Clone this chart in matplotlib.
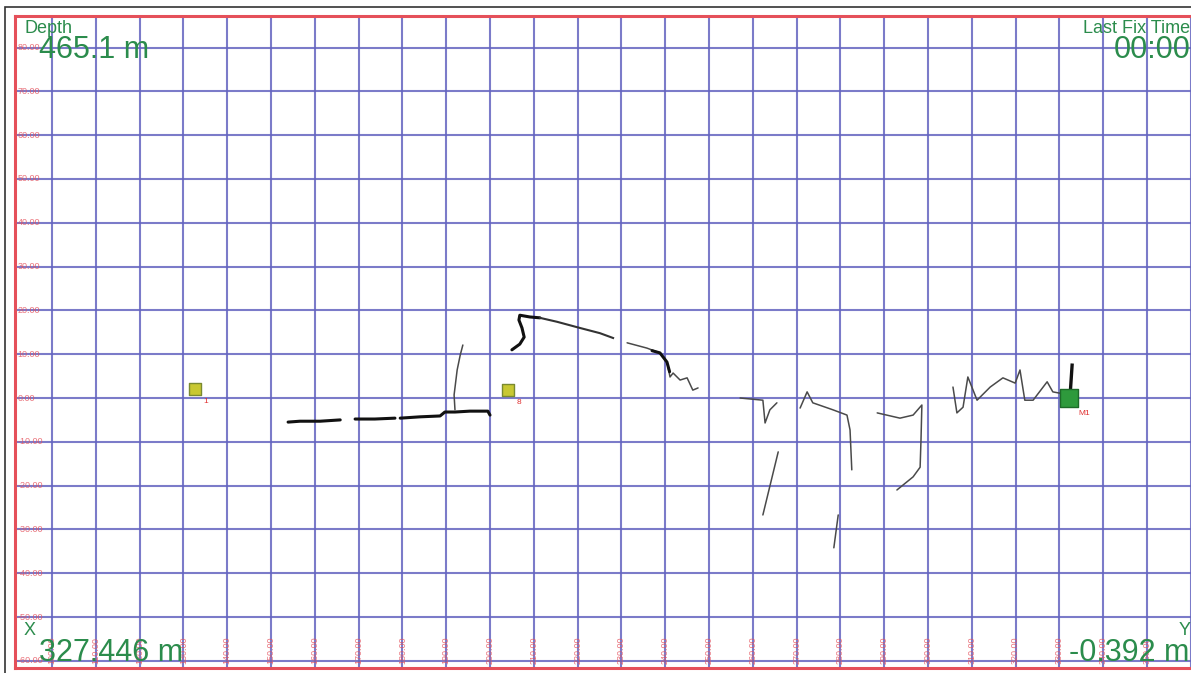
import matplotlib
matplotlib.use("Agg")
import matplotlib.pyplot as plt
import matplotlib.transforms as mtransforms
from matplotlib.patches import Rectangle

plt.rcParams['font.family'] = ['Liberation Sans', 'DejaVu Sans']

#%% Data
x_ticks = list(range(100, 361, 10))
x_labelled = list(range(100, 351, 10))
y_ticks = list(range(-60, 81, 10))

# track pieces (x, y) in metres
track_a1_x = [153.9, 156.6, 161.2, 165.8]
track_a1_y = [-5.5, -5.3, -5.3, -5.0]
track_a2_x = [169.2, 173.7, 178.3]
track_a2_y = [-4.8, -4.8, -4.6]
track_a3_x = [179.5, 184.0, 188.6, 189.7, 192.0, 195.4, 199.5, 200.0]
track_a3_y = [-4.6, -4.3, -4.1, -3.2, -3.2, -3.0, -3.0, -3.9]
track_t1_x = [192.0, 191.8, 192.5, 193.2, 193.8]
track_t1_y = [-2.7, 0.7, 6.4, 9.8, 12.1]

track_b1_x = [205.0, 206.8, 207.8, 207.3, 206.6, 206.8, 209.1, 211.4]
track_b1_y = [11.0, 12.3, 13.9, 16.0, 17.8, 18.9, 18.5, 18.3]
track_b2_x = [211.4, 215.3, 220.5, 225.1, 228.1]
track_b2_y = [18.3, 17.4, 16.0, 14.8, 13.7]
track_b3_x = [231.3, 235.8, 238.8, 240.4, 241.1, 241.8, 243.4, 245.0, 246.3, 247.5]
track_b3_y = [12.6, 11.4, 10.3, 8.2, 4.8, 5.7, 4.1, 4.6, 1.8, 2.3]
track_b3_thick_x = [237.0, 238.8, 240.4, 241.0]
track_b3_thick_y = [10.8, 10.3, 8.2, 6.0]

track_c1_x = [257.1, 262.3, 262.8, 263.9, 265.5]
track_c1_y = [0.0, -0.5, -5.7, -2.7, -1.1]
track_c2_x = [265.8, 262.3]
track_c2_y = [-12.3, -26.7]
track_c3_x = [270.8, 272.4, 273.7, 278.3, 281.5, 282.2, 282.6]
track_c3_y = [-2.3, 1.4, -1.1, -2.7, -3.9, -7.3, -16.4]
track_c4_x = [279.5, 278.5]
track_c4_y = [-26.7, -34.2]
track_c5_x = [288.4, 293.6, 296.6, 298.6, 298.4, 298.2, 296.6, 292.9]
track_c5_y = [-3.4, -4.6, -3.9, -1.6, -9.6, -15.8, -18.0, -21.0]
track_c6_x = [305.7, 306.6, 308.0, 309.1, 311.2, 314.2, 317.1, 319.9, 321.0,
              322.1, 324.0, 327.2, 328.5, 330.1]
track_c6_y = [2.5, -3.4, -2.1, 4.8, -0.5, 2.5, 4.6, 3.4, 6.4, -0.5, -0.5,
              3.7, 1.4, 1.1]

heading_x = [332.9, 332.4]
heading_y = [7.5, 0.0]

waypoint_x = [132.6, 204.1]
waypoint_y = [2.1, 1.8]
waypoint_labels = ["1", "8"]
vessel_x, vessel_y, vessel_label = 332.2, 0.0, "M1"

depth_text = "465.1 m"
x_text = "327.446 m"
y_text = "-0.392 m"
fix_text = "00:00"

#%% Figure
W, H = 1191, 673
fig = plt.figure(figsize=(W / 100, H / 100), dpi=100)
fig.patch.set_facecolor("white")

# outer dark border (left / top)
fig.add_artist(Rectangle((5 / W, -0.05), 1.2, 1 - 7 / H + 0.05,
                         transform=fig.transFigure, fill=False,
                         edgecolor="#333333", linewidth=1.2))

ax = fig.add_axes([15 / W, 1 - 668 / H, (1200 - 15) / W, (668 - 16) / H])
ax.set_xlim(91.55, 362.1)
ax.set_ylim(-61.64, 87.21)

red = "#e5505a"
blue = "#6464c0"
green = "#2b8c4c"

for s in ax.spines.values():
    s.set_color(red)
    s.set_linewidth(2.2)

ax.set_xticks(x_ticks)
ax.set_yticks(y_ticks)
ax.tick_params(length=0, labelbottom=False, labelleft=False)
ax.grid(True, color=blue, linewidth=1.5, alpha=0.85)
ax.set_axisbelow(True)

# tick labels drawn inside the plot
tr_y = mtransforms.blended_transform_factory(ax.transAxes, ax.transData)
for v in y_ticks:
    ax.text(0.002, v, f"{v:.2f}", transform=tr_y, ha="left", va="center",
            fontsize=6.5, color=red, alpha=0.8)
tr_x = mtransforms.blended_transform_factory(ax.transData, ax.transAxes)
for v in x_labelled:
    ax.text(v, 0.006, f"{v:.2f}", transform=tr_x, ha="center", va="bottom",
            rotation=90, fontsize=6.5, color=red, alpha=0.8)

# track
thin = dict(color="#4a4a4a", linewidth=1.1, solid_capstyle="round")
thick = dict(color="#111111", linewidth=2.2, solid_capstyle="round")
ax.plot(track_a1_x, track_a1_y, **thick)
ax.plot(track_a2_x, track_a2_y, **thick)
ax.plot(track_a3_x, track_a3_y, **thick)
ax.plot(track_t1_x, track_t1_y, **thin)
ax.plot(track_b1_x, track_b1_y, **thick)
ax.plot(track_b2_x, track_b2_y, color="#333333", linewidth=1.5)
ax.plot(track_b3_x, track_b3_y, **thin)
ax.plot(track_b3_thick_x, track_b3_thick_y, **thick)
for xs, ys in [(track_c1_x, track_c1_y), (track_c2_x, track_c2_y),
               (track_c3_x, track_c3_y), (track_c4_x, track_c4_y),
               (track_c5_x, track_c5_y), (track_c6_x, track_c6_y)]:
    ax.plot(xs, ys, **thin)

# waypoints
ax.scatter(waypoint_x, waypoint_y, marker="s", s=70, color="#c8c832",
           edgecolor="#7a8a30", linewidth=1.0, zorder=5)
for xv, yv, lab in zip(waypoint_x, waypoint_y, waypoint_labels):
    ax.annotate(lab, (xv, yv), xytext=(6, -10), textcoords="offset points",
                fontsize=6, color="#e03030")

# vessel
ax.plot(heading_x, heading_y, color="#111111", linewidth=2.4, zorder=6)
ax.scatter([vessel_x], [vessel_y], marker="s", s=150, color="#2e9a3c",
           edgecolor="#1d6b28", linewidth=1.0, zorder=7)
ax.annotate(vessel_label, (vessel_x, vessel_y), xytext=(7, -12),
            textcoords="offset points", fontsize=6, color="#e03030")

# readouts
def ftext(px, py, s, size, ha="left"):
    fig.text(px / W, 1 - py / H, s, fontsize=size, color=green, ha=ha, va="top")

ftext(24, 20, "Depth", 13)
ftext(39, 35, depth_text, 22)
ftext(1190, 20, "Last Fix Time", 13, ha="right")
ftext(1191, 35, fix_text, 22, ha="right")
ftext(24, 622, "X", 13)
ftext(39, 638, x_text, 22)
ftext(1191, 622, "Y", 13, ha="right")
ftext(1189, 638, y_text, 22, ha="right")

fig.savefig("out.png", dpi=100)
